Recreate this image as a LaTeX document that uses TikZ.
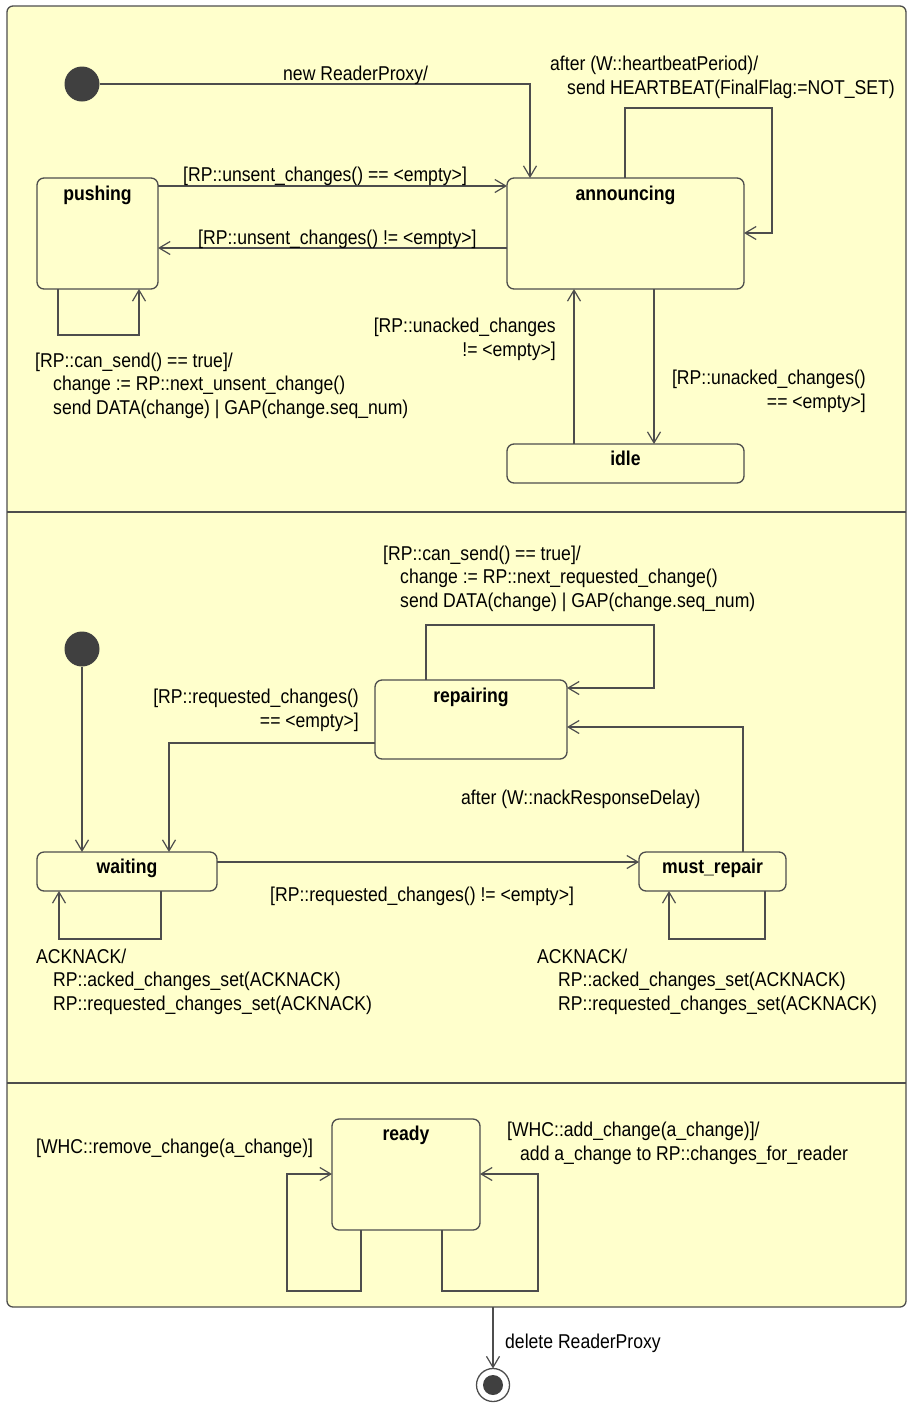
\documentclass[tikz,border=0pt]{standalone}
\usepackage{fontspec}
\setmainfont[FakeStretch=0.88]{Liberation Sans}
\usetikzlibrary{arrows.meta}

\definecolor{statefill}{HTML}{FFFFCC}
\definecolor{edgegray}{HTML}{4D4D4D}
\definecolor{dotgray}{HTML}{404040}

\begin{document}
\begin{tikzpicture}[x=1pt, y=-1pt,
    font=\fontsize{20}{23.5}\selectfont,
    machine/.style={draw=edgegray, fill=statefill, line width=1.3pt, rounded corners=6pt, inner sep=0pt, outer sep=0pt},
    statebox/.style={draw=edgegray, fill=statefill, line width=1.3pt, rounded corners=7pt, inner sep=0pt, outer sep=0pt},
    statename/.style={anchor=base, inner sep=0pt, font=\fontsize{20}{23.5}\selectfont\bfseries},
    initdot/.style={circle, fill=dotgray, minimum size=35pt, inner sep=0pt, outer sep=0pt},
    guard/.style={anchor=base west, align=left, inner sep=0pt},
    guardr/.style={anchor=base east, align=right, inner sep=0pt},
    tr/.style={draw=edgegray, line width=1.2pt, -{Straight Barb[length=11pt,width=13pt]}}]

        \useasboundingbox (0,0) rectangle (909,1403);

        % the ReaderProxy machine and its three regions
        \node[machine, minimum width=899pt, minimum height=1301pt] (proxy) at (456.5,656.5) {};
        \draw[edgegray, line width=1.3pt] (proxy.west |- 0,512) -- (proxy.east |- 0,512);
        \draw[edgegray, line width=1.3pt] (proxy.west |- 0,1083) -- (proxy.east |- 0,1083);

        % top region
        \node[initdot] (init1) at (82,84) {};
        \node[statebox, minimum width=121pt, minimum height=111pt] (pushing) at (97.5,233.5) {};
        \node[statebox, minimum width=237pt, minimum height=111pt] (announcing) at (625.5,233.5) {};
        \node[statebox, minimum width=237pt, minimum height=39pt] (idle) at (625.5,463.5) {};
        \node[statename] (pushingT) at ([yshift=-22pt]pushing.north) {pushing};
        \node[statename] (announcingT) at ([yshift=-22pt]announcing.north) {announcing};
        \node[statename] (idleT) at ([yshift=-21pt]idle.north) {idle};

        \draw[tr] (init1.east) -| (announcing.north -| 530,0);
        \node[guard] (lbNew) at (283,80) {new ReaderProxy/};
        \draw[tr] (pushing.east |- 0,186) -- (announcing.west |- 0,186);
        \node[guard] (lbUnsentEq) at (183,181) {[RP::unsent\_changes() == <empty>]};
        \draw[tr] (announcing.west |- 0,248) -- (pushing.east |- 0,248);
        \node[guard] (lbUnsentNe) at (198,244) {[RP::unsent\_changes() != <empty>]};
        \draw[tr] (announcing.north -| 625,0) |- (772,108) |- (announcing.east |- 0,233);
        \node[guard] (lbHeartbeat) at (550,94) {after (W::heartbeatPeriod)/\\\hspace*{17pt}send HEARTBEAT(FinalFlag:=NOT\_SET)};
        \draw[tr] (pushing.south -| 58,0) |- (139,335) -- (pushing.south -| 139,0);
        \node[guard] (lbPushSend) at (35,414) {[RP::can\_send() == true]/\\\hspace*{18pt}change := RP::next\_unsent\_change()\\\hspace*{18pt}send DATA(change) | GAP(change.seq\_num)};
        \draw[tr] (idle.north -| 574,0) -- (announcing.south -| 574,0);
        \node[guardr] (lbUnackedNe) at (556,356) {[RP::unacked\_changes\\!= <empty>]};
        \draw[tr] (announcing.south -| 654,0) -- (idle.north -| 654,0);
        \node[guardr] (lbUnackedEq) at (866,408) {[RP::unacked\_changes()\\== <empty>]};

        % middle region
        \node[initdot] (init2) at (82,649) {};
        \node[statebox, minimum width=192pt, minimum height=79pt] (repairing) at (471,719.5) {};
        \node[statebox, minimum width=180pt, minimum height=39pt] (waiting) at (127,871.5) {};
        \node[statebox, minimum width=147pt, minimum height=39pt] (mustrepair) at (712.5,871.5) {};
        \node[statename] (repairingT) at ([yshift=-22pt]repairing.north) {repairing};
        \node[statename] (waitingT) at ([yshift=-21pt]waiting.north) {waiting};
        \node[statename] (mustrepairT) at ([yshift=-21pt]mustrepair.north) {must\_repair};

        \draw[tr] (init2) -- (waiting.north -| init2);
        \draw[tr] (repairing.north -| 426,0) |- (654,625) |- (repairing.east |- 0,688);
        \node[guard] (lbRepairSend) at (383,607) {[RP::can\_send() == true]/\\\hspace*{17pt}change := RP::next\_requested\_change()\\\hspace*{17pt}send DATA(change) | GAP(change.seq\_num)};
        \draw[tr] (repairing.west |- 0,743) -| (waiting.north -| 169,0);
        \node[guardr] (lbReqEmpty) at (359,727) {[RP::requested\_changes()\\== <empty>]};
        \draw[tr] (mustrepair.north -| 743,0) |- (repairing.east |- 0,727);
        \node[guard] (lbNackDelay) at (461,804) {after (W::nackResponseDelay)};
        \draw[tr] (waiting.east |- 0,862) -- (mustrepair.west |- 0,862);
        \node[guard] (lbReqNonEmpty) at (270,901) {[RP::requested\_changes() != <empty>]};
        \draw[tr] (waiting.south -| 161,0) |- (59,939) -- (waiting.south -| 59,0);
        \node[guard] (lbAckWaiting) at (36,1010) {ACKNACK/\\\hspace*{17pt}RP::acked\_changes\_set(ACKNACK)\\\hspace*{17pt}RP::requested\_changes\_set(ACKNACK)};
        \draw[tr] (mustrepair.south -| 765,0) |- (669,939) -- (mustrepair.south -| 669,0);
        \node[guard] (lbAckRepair) at (537,1010) {ACKNACK/\\\hspace*{21pt}RP::acked\_changes\_set(ACKNACK)\\\hspace*{21pt}RP::requested\_changes\_set(ACKNACK)};

        % bottom region
        \node[statebox, minimum width=148pt, minimum height=111pt] (ready) at (406,1174.5) {};
        \node[statename] (readyT) at ([yshift=-21pt]ready.north) {ready};
        \draw[tr] (ready.south -| 361,0) |- (287,1291) |- (ready.west |- 0,1174);
        \node[guard] (lbRemove) at (36,1153) {[WHC::remove\_change(a\_change)]};
        \draw[tr] (ready.south -| 442,0) |- (538,1291) |- (ready.east |- 0,1174);
        \node[guard] (lbAdd) at (507,1160) {[WHC::add\_change(a\_change)]/\\\hspace*{13pt}add a\_change to RP::changes\_for\_reader};

        % leaving the machine
        \node[circle, draw=edgegray, fill=white, line width=1.3pt, minimum size=33pt, inner sep=0pt, outer sep=0pt] (final) at (493,1385) {};
        \node[circle, fill=dotgray, minimum size=20pt, inner sep=0pt] (finalDot) at (final) {};
        \draw[tr] (proxy.south -| final) -- (final);
        \node[guard] (lbDelete) at (505,1348) {delete ReaderProxy};
      \end{tikzpicture}
\end{document}
